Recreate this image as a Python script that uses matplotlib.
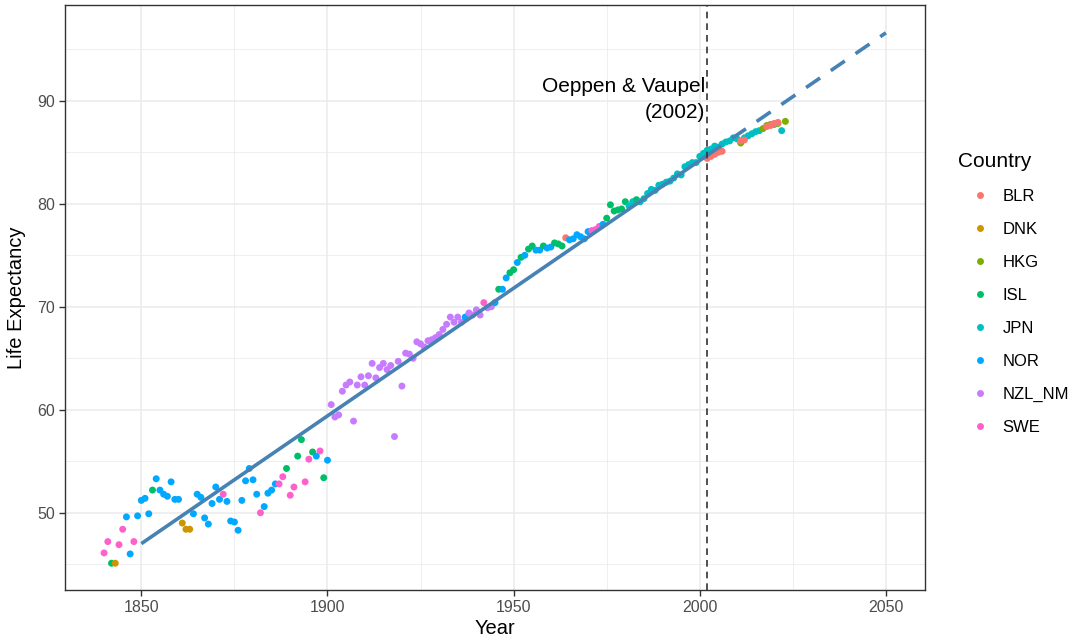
import matplotlib
matplotlib.use("Agg")
import matplotlib.pyplot as plt
from matplotlib.lines import Line2D

plt.rcParams['font.family'] = ['Liberation Sans', 'DejaVu Sans']

# ---------------- data ----------------
countries = ["BLR", "DNK", "HKG", "ISL", "JPN", "NOR", "NZL_NM", "SWE"]
country_colors = ["#F8766D", "#CD9600", "#7CAE00", "#00BE67",
                  "#00BFC4", "#00A9FF", "#C77CFF", "#FF61CC"]

years = [
    1840, 1841, 1842, 1843, 1844, 1845, 1846, 1847, 1848, 1849,
    1850, 1851, 1852, 1853, 1854, 1855, 1856, 1857, 1858, 1859,
    1860, 1861, 1862, 1863, 1864, 1865, 1866, 1867, 1868, 1869,
    1870, 1871, 1872, 1873, 1874, 1875, 1876, 1877, 1878, 1879,
    1880, 1881, 1882, 1883, 1884, 1885, 1886, 1887, 1888, 1889,
    1890, 1891, 1892, 1893, 1894, 1895, 1896, 1897, 1898, 1899,
    1900, 1901, 1902, 1903, 1904, 1905, 1906, 1907, 1908, 1909,
    1910, 1911, 1912, 1913, 1914, 1915, 1916, 1917, 1918, 1919,
    1920, 1921, 1922, 1923, 1924, 1925, 1926, 1927, 1928, 1929,
    1930, 1931, 1932, 1933, 1934, 1935, 1936, 1937, 1938, 1939,
    1940, 1941, 1942, 1943, 1944, 1945, 1946, 1947, 1948, 1949,
    1950, 1951, 1952, 1953, 1954, 1955, 1956, 1957, 1958, 1959,
    1960, 1961, 1962, 1963, 1964, 1965, 1966, 1967, 1968, 1969,
    1970, 1971, 1972, 1973, 1974, 1975, 1976, 1977, 1978, 1979,
    1980, 1981, 1982, 1983, 1984, 1985, 1986, 1987, 1988, 1989,
    1990, 1991, 1992, 1993, 1994, 1995, 1996, 1997, 1998, 1999,
    2000, 2001, 2002, 2003, 2004, 2005, 2006, 2007, 2008, 2009,
    2010, 2011, 2012, 2013, 2014, 2015, 2016, 2017, 2018, 2019,
    2020, 2021, 2022, 2023,
    2002, 2003, 2004, 2005, 2006, 2011, 2012, 2018, 2019, 2020, 2021,
]
life_exp = [
    46.1, 47.2, 45.1, 45.1, 46.9, 48.4, 49.6, 46.0, 47.2, 49.7,
    51.2, 51.4, 49.9, 52.2, 53.3, 52.2, 51.8, 51.6, 53.0, 51.3,
    51.3, 49.0, 48.4, 48.4, 49.9, 51.8, 51.5, 49.5, 48.9, 50.9,
    52.5, 51.3, 51.8, 51.1, 49.2, 49.1, 48.3, 51.2, 53.1, 54.3,
    53.2, 51.8, 50.0, 50.6, 51.9, 52.2, 52.8, 52.8, 53.5, 54.3,
    51.7, 52.5, 55.5, 57.1, 53.0, 55.2, 55.9, 55.5, 56.0, 53.4,
    55.1, 60.5, 59.3, 59.5, 61.8, 62.4, 62.7, 58.9, 62.4, 63.2,
    62.4, 63.3, 64.5, 63.1, 64.1, 64.5, 63.9, 64.3, 57.4, 64.7,
    62.3, 65.5, 65.4, 65.0, 66.6, 66.4, 66.1, 66.7, 66.8, 67.0,
    67.3, 67.8, 68.3, 69.0, 68.5, 69.0, 68.5, 69.0, 69.4, 69.2,
    69.7, 69.2, 70.4, 69.9, 70.0, 70.4, 71.7, 71.7, 72.8, 73.3,
    73.6, 74.3, 74.8, 75.0, 75.6, 75.9, 75.5, 75.5, 75.9, 75.7,
    75.8, 76.2, 76.1, 75.9, 76.7, 76.5, 76.6, 77.0, 76.8, 76.6,
    77.3, 77.4, 77.5, 77.8, 78.0, 78.6, 79.9, 79.3, 79.4, 79.5,
    80.2, 79.8, 80.2, 80.4, 80.2, 80.5, 81.0, 81.4, 81.3, 81.8,
    81.9, 82.1, 82.2, 82.5, 82.9, 82.8, 83.6, 83.8, 84.0, 84.0,
    84.6, 84.9, 85.2, 85.3, 85.6, 85.5, 85.8, 86.0, 86.1, 86.4,
    86.3, 85.9, 86.4, 86.6, 86.8, 87.0, 87.1, 87.3, 87.6, 87.7,
    87.7, 87.8, 87.1, 88.0,
    84.4, 84.6, 84.8, 85.0, 85.1, 86.1, 86.2, 87.5, 87.6, 87.8, 87.9,
]
country = (
    ["SWE", "SWE", "ISL", "DNK", "SWE", "SWE", "NOR", "NOR", "SWE", "NOR"]
    + ["NOR", "NOR", "NOR", "ISL", "NOR", "NOR", "NOR", "NOR", "NOR", "NOR"]
    + ["NOR", "DNK", "DNK", "DNK", "NOR", "NOR", "NOR", "NOR", "NOR", "NOR"]
    + ["NOR", "NOR", "SWE", "NOR", "NOR", "NOR", "NOR", "NOR", "NOR", "NOR"]
    + ["NOR", "NOR", "SWE", "NOR", "NOR", "NOR", "NOR", "SWE", "SWE", "ISL"]
    + ["SWE", "SWE", "ISL", "ISL", "SWE", "SWE", "ISL", "NOR", "SWE", "ISL"]
    + ["NOR"] + ["NZL_NM"] * 9
    + ["NZL_NM"] * 10
    + ["NZL_NM"] * 10
    + ["NZL_NM"] * 7 + ["NOR", "NZL_NM", "NZL_NM"]
    + ["NZL_NM", "NZL_NM", "SWE", "NZL_NM", "NZL_NM", "NOR", "ISL", "NOR", "NOR", "ISL"]
    + ["ISL", "NOR", "ISL", "NOR", "ISL", "ISL", "NOR", "NOR", "ISL", "NOR"]
    + ["NOR", "ISL", "ISL", "ISL", "BLR", "NOR", "NOR", "NOR", "NOR", "NOR"]
    + ["NOR", "SWE", "SWE", "SWE", "NOR", "ISL", "ISL", "ISL", "ISL", "ISL"]
    + ["ISL", "JPN", "JPN", "ISL", "JPN", "JPN", "JPN", "JPN", "JPN", "JPN"]
    + ["JPN"] * 10
    + ["JPN"] * 10
    + ["JPN", "HKG", "JPN", "JPN", "JPN", "JPN", "JPN", "HKG", "HKG", "HKG"]
    + ["JPN", "HKG", "JPN", "HKG"]
    + ["BLR"] * 11
)

trend_years = [1850, 2002]
trend_values = [47.0, 84.7]
proj_years = [2002, 2050]
proj_values = [84.7, 96.6]
vline_year = 2002
annot_text = "Oeppen & Vaupel\n(2002)"
annot_pos = (2001.5, 90.1)

x_ticks = [1850, 1900, 1950, 2000, 2050]
y_ticks = [50, 60, 70, 80, 90]

# ---------------- figure ----------------
fig = plt.figure(figsize=(10.72, 6.41), dpi=100)
ax = fig.add_axes([65 / 1072, 51 / 641, 860 / 1072, 585 / 641])

cmap = dict(zip(countries, country_colors))
ax.scatter(years, life_exp, c=[cmap[c] for c in country], s=25,
           linewidths=0, zorder=3)

ax.plot(trend_years, trend_values, color="#4682B4", lw=2.6,
        solid_capstyle="butt", zorder=4)
ax.plot(proj_years, proj_values, color="#4682B4", lw=2.6,
        linestyle=(0, (4.7, 3.6)), dash_capstyle="butt", zorder=4)
ax.axvline(vline_year, color="#333333", lw=1.2,
           linestyle=(0, (4, 3)), zorder=5)
ax.text(annot_pos[0], annot_pos[1], annot_text, ha="right", va="center",
        fontsize=15, linespacing=1.45, color="black", zorder=6)

ax.set_xlim(1829.5, 2060.5)
ax.set_ylim(42.5, 99.3)
ax.set_xticks(x_ticks)
ax.set_yticks(y_ticks)
ax.set_xticks([1875, 1925, 1975, 2025], minor=True)
ax.set_yticks([45, 55, 65, 75, 85, 95], minor=True)
ax.grid(True, which="major", color="#EBEBEB", lw=1.1, zorder=0)
ax.grid(True, which="minor", color="#EBEBEB", lw=0.55, zorder=0)
ax.set_axisbelow(True)
ax.tick_params(which="major", length=4, width=1, color="#333333",
               labelsize=11.5, labelcolor="#4D4D4D", pad=3)
ax.tick_params(which="minor", length=0)
for s in ax.spines.values():
    s.set_color("#333333")
    s.set_linewidth(1.0)

ax.set_xlabel("Year", fontsize=14.5, labelpad=3)
ax.set_ylabel("Life Expectancy", fontsize=14.5, labelpad=8)

handles = [Line2D([], [], marker="o", linestyle="", markersize=5,
                  markerfacecolor=col, markeredgewidth=0)
           for col in country_colors]
leg = fig.legend(handles, countries, title="Country", loc="upper left",
                 bbox_to_anchor=(951 / 1072, 1 - 145 / 641), frameon=False,
                 fontsize=12, title_fontsize=15, labelspacing=1.08,
                 handletextpad=0.0, handlelength=2.7, alignment="left",
                 borderaxespad=0)

fig.savefig("out.png", dpi=100)
